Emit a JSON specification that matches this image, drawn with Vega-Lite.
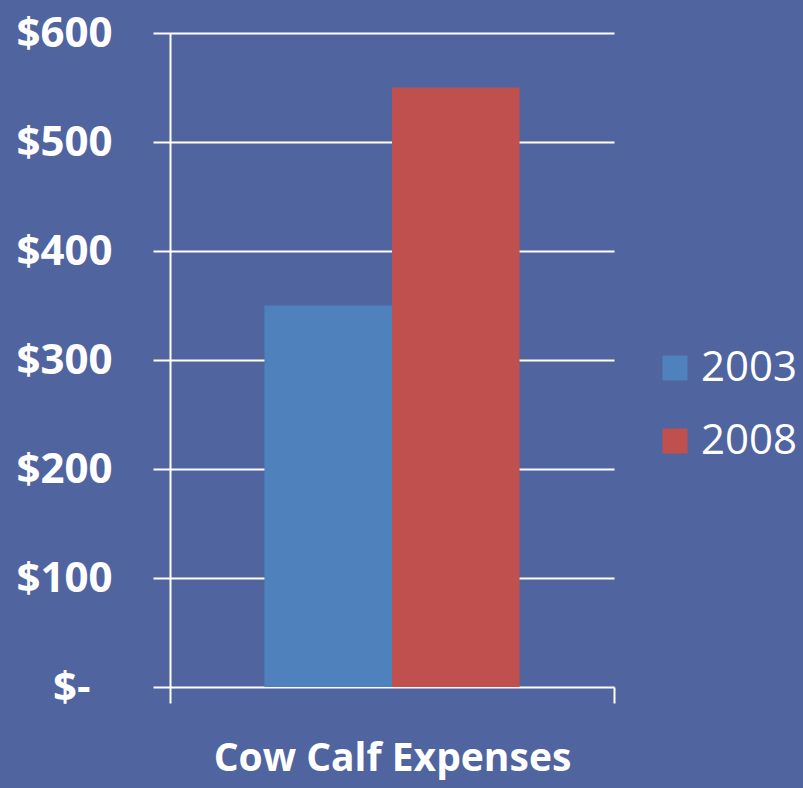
{
  "$schema": "https://vega.github.io/schema/vega-lite/v6.json",
  "autosize": {"type": "none"},
  "padding": {"left": 170, "top": 33, "right": 189, "bottom": 101},
  "width": 444,
  "height": 654,
  "background": "#5064a0",
  "data": {"values": [
    {"category": "Cow Calf Expenses", "year": "2003", "value": 350},
    {"category": "Cow Calf Expenses", "year": "2008", "value": 550}
  ]},
  "mark": {"type": "bar", "strokeWidth": 0},
  "encoding": {
    "x": {
      "field": "category", "type": "nominal",
      "scale": {"paddingInner": 0, "paddingOuter": 0},
      "axis": {
        "title": null, "labelAngle": 0, "domain": false, "labelLimit": 0,
        "ticks": true, "tickBand": "extent", "tickSize": 16, "tickWidth": 2, "tickColor": "white",
        "labelColor": "white", "labelFont": "Open Sans", "labelFontSize": 39, "labelFontWeight": "bold", "labelPadding": 36
      }
    },
    "xOffset": {
      "field": "year", "type": "nominal",
      "scale": {"paddingOuter": 0.74, "paddingInner": 0}
    },
    "y": {
      "field": "value", "type": "quantitative",
      "scale": {"domain": [0, 600], "nice": false},
      "axis": {
        "title": null, "values": [0, 100, 200, 300, 400, 500, 600],
        "labelExpr": "datum.value == 0 ? '$-' : '$' + datum.value",
        "domain": true, "domainColor": "white", "domainWidth": 2,
        "grid": true, "gridColor": "white", "gridWidth": 2, "gridOpacity": 1,
        "ticks": true, "tickColor": "white", "tickWidth": 2, "tickSize": 17,
        "labelColor": "white", "labelFont": "Open Sans", "labelFontSize": 42, "labelFontWeight": "bold",
        "labelPadding": {"condition": {"test": "datum.value == 0", "value": 63}, "value": 41}
      }
    },
    "color": {
      "field": "year", "type": "nominal",
      "scale": {"domain": ["2003", "2008"], "range": ["#4F81BD", "#C0504D"]},
      "legend": {
        "title": null, "orient": "none", "legendX": 484, "legendY": 314,
        "padding": 0, "symbolType": "square", "symbolSize": 625, "symbolStrokeWidth": 0,
        "labelColor": "white", "labelFont": "Open Sans", "labelFontSize": 42, "labelFontWeight": "normal",
        "labelOffset": 5, "rowPadding": 31
      }
    }
  },
  "config": {"view": {"stroke": null}}
}
